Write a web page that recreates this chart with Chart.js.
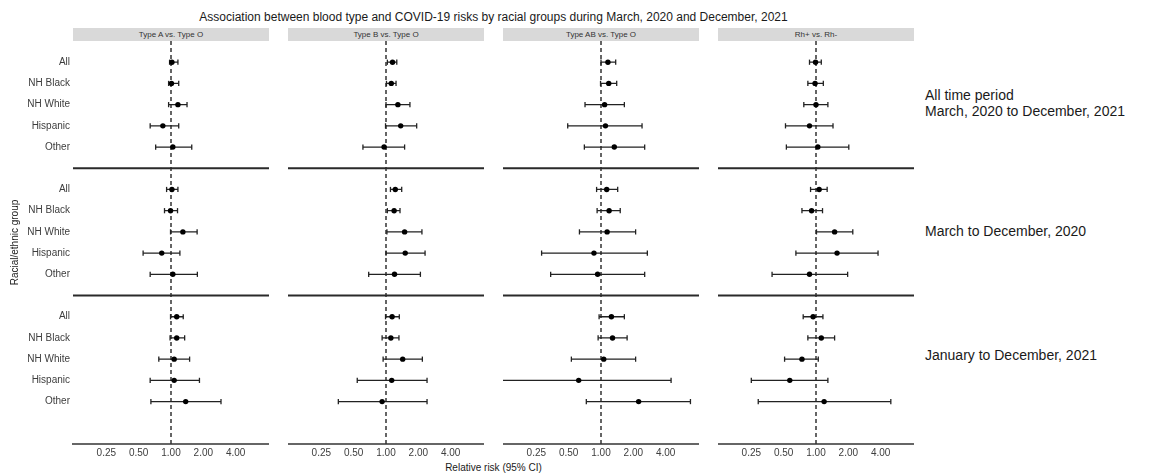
<!DOCTYPE html>
<html>
<head>
<meta charset="utf-8">
<script src="https://cdn.jsdelivr.net/npm/chart.js@4.4.1/dist/chart.umd.min.js"></script>
<style>
  body { margin: 0; background: #fff; font-family: "Liberation Sans", Arial, sans-serif; }
  #wrap { position: relative; width: 1151px; height: 475px; overflow: hidden; }
  .box { position: absolute; }
  .strip { position: absolute; top: 28px; height: 13px; width: 196px; background: #d9d9d9;
           font-size: 8px; line-height: 13px; color: #333; text-align: center; }
  .period { position: absolute; left: 925px; font-size: 14px; line-height: 16px; color: #1a1a1a; white-space: nowrap; }
</style>
</head>
<body>
<div id="wrap">
  <div class="box" style="top:10px;left:0;width:987px;text-align:center;font-size:12px;line-height:14px;color:#1a1a1a;white-space:nowrap;">Association between blood type and COVID-19 risks by racial groups during March, 2020 and December, 2021</div>
  <div class="box" style="top:461px;left:0;width:987px;text-align:center;font-size:10px;line-height:14px;color:#1a1a1a;">Relative risk (95% CI)</div>
</div>
<script>
const groups = ["All", "NH Black", "NH White", "Hispanic", "Other"];
const periods = ["All time period<br>March, 2020 to December, 2021", "March to December, 2020", "January to December, 2021"];
const comparisons = ["Type A vs. Type O", "Type B vs. Type O", "Type AB vs. Type O", "Rh+ vs. Rh-"];
const riskTicks = [0.25, 0.5, 1, 2, 4];

// 15 values each: 5 groups x 3 periods (all time, 2020, 2021)
const rrA = [1.02, 1.01, 1.16, 0.84, 1.04, 1.02, 0.99, 1.29, 0.82, 1.04, 1.13, 1.13, 1.07, 1.07, 1.37];
const loA = [0.97, 0.95, 0.95, 0.64, 0.72, 0.91, 0.87, 0.99, 0.55, 0.64, 0.99, 0.98, 0.77, 0.64, 0.65];
const hiA = [1.16, 1.18, 1.41, 1.18, 1.56, 1.16, 1.15, 1.75, 1.21, 1.76, 1.30, 1.34, 1.49, 1.84, 2.92];

const rrB = [1.15, 1.12, 1.29, 1.37, 0.96, 1.22, 1.19, 1.49, 1.51, 1.20, 1.14, 1.11, 1.43, 1.13, 0.92];
const loB = [1.03, 1.01, 1.00, 0.99, 0.61, 1.10, 1.03, 1.02, 1.00, 0.69, 0.99, 0.92, 0.94, 0.54, 0.36];
const hiB = [1.26, 1.24, 1.67, 1.93, 1.49, 1.40, 1.35, 2.16, 2.31, 2.09, 1.33, 1.32, 2.18, 2.41, 2.41];

const rrAB = [1.16, 1.18, 1.08, 1.10, 1.33, 1.13, 1.19, 1.14, 0.86, 0.93, 1.25, 1.28, 1.06, 0.62, 2.24];
const loAB = [1.00, 0.99, 0.71, 0.49, 0.70, 0.91, 0.92, 0.63, 0.28, 0.34, 0.96, 0.94, 0.53, 0.10, 0.73];
const hiAB = [1.37, 1.40, 1.65, 2.41, 2.55, 1.43, 1.51, 2.10, 2.70, 2.55, 1.65, 1.75, 2.10, 4.49, 6.80];

const rrRh = [0.99, 0.98, 1.00, 0.87, 1.04, 1.07, 0.91, 1.49, 1.57, 0.87, 0.94, 1.12, 0.74, 0.57, 1.19];
const loRh = [0.87, 0.84, 0.77, 0.52, 0.53, 0.89, 0.74, 1.01, 0.65, 0.39, 0.76, 0.84, 0.51, 0.25, 0.29];
const hiRh = [1.12, 1.17, 1.29, 1.44, 2.02, 1.27, 1.15, 2.20, 3.78, 1.97, 1.16, 1.49, 1.05, 1.29, 4.97];

const estimates = [
  { rr: rrA, lo: loA, hi: hiA },
  { rr: rrB, lo: loB, hi: hiB },
  { rr: rrAB, lo: loAB, hi: hiAB },
  { rr: rrRh, lo: loRh, hi: hiRh },
];

const font = "'Liberation Sans', Arial, sans-serif";
const xMin = Math.pow(2, -3.03);
const xMax = Math.pow(2, 3.03);
const panelLeft = [73, 288, 503, 718];
const yAxisWidth = 73;

const wrap = document.getElementById("wrap");

// y slot of each estimate: rows 1-5, 7-11, 13-17, separators at 6 and 12
const yPos = rrA.map((_, i) => Math.floor(i / 5) * 6 + (i % 5) + 1);

periods.forEach((text, p) => {
  const div = document.createElement("div");
  div.className = "period";
  div.style.top = [87, 223, 347][p] + "px";
  div.innerHTML = text;
  wrap.appendChild(div);
});

comparisons.forEach((name, c) => {
  const strip = document.createElement("div");
  strip.className = "strip";
  strip.style.left = panelLeft[c] + "px";
  strip.textContent = name;
  wrap.appendChild(strip);

  const first = c === 0;
  const width = first ? 196 + yAxisWidth : 196;
  const holder = document.createElement("div");
  holder.className = "box";
  holder.style.left = (first ? 0 : panelLeft[c]) + "px";
  holder.style.top = "41px";
  const canvas = document.createElement("canvas");
  canvas.width = width;
  canvas.height = 434;
  holder.appendChild(canvas);
  wrap.appendChild(holder);

  const { rr, lo, hi } = estimates[c];
  const points = rr.map((v, i) => ({ x: v, y: yPos[i] }));
  const bars = [];
  const caps = [];
  lo.forEach((l, i) => {
    bars.push({ x: l, y: yPos[i] }, { x: hi[i], y: yPos[i] }, { x: 1, y: null });
    caps.push({ x: l, y: yPos[i] }, { x: hi[i], y: yPos[i] });
  });

  new Chart(canvas, {
    type: "scatter",
    data: {
      datasets: [
        {
          data: points,
          pointRadius: 2.7,
          pointBackgroundColor: "#000",
          pointBorderColor: "#000",
          pointBorderWidth: 0,
        },
        {
          data: caps,
          pointStyle: "line",
          pointRotation: 90,
          pointRadius: 2.6,
          pointBorderColor: "#222",
          pointBorderWidth: 1.3,
        },
        {
          data: bars,
          showLine: true,
          spanGaps: false,
          borderColor: "#222",
          borderWidth: 1.3,
          pointRadius: 0,
        },
        {
          data: [
            { x: xMin, y: 6 }, { x: xMax, y: 6 }, { x: 1, y: null },
            { x: xMin, y: 12 }, { x: xMax, y: 12 },
          ],
          showLine: true,
          spanGaps: false,
          borderColor: "#2a2a2a",
          borderWidth: 2,
          pointRadius: 0,
        },
        {
          data: [{ x: 1, y: 0 }, { x: 1, y: 19 }],
          showLine: true,
          borderColor: "#333",
          borderWidth: 1.5,
          borderDash: [4, 3],
          pointRadius: 0,
        },
      ],
    },
    options: {
      responsive: false,
      animation: false,
      layout: { padding: 0, autoPadding: false },
      plugins: { legend: { display: false }, tooltip: { enabled: false } },
      scales: {
        x: {
          type: "logarithmic",
          min: xMin,
          max: xMax,
          grid: { display: false, drawTicks: false },
          border: { display: true, color: "#666", width: 2 },
          afterBuildTicks: (scale) => {
            scale.ticks = riskTicks.map((v) => ({ value: v }));
          },
          afterFit: (scale) => {
            scale.height = 31;
            scale.paddingLeft = 0;
            scale.paddingRight = 0;
          },
          ticks: {
            autoSkip: false,
            maxRotation: 0,
            padding: 3,
            color: "#3d3d3d",
            font: { size: 10, family: font },
            callback: (v) => Number(v).toFixed(2),
          },
        },
        y: {
          type: "linear",
          min: 0,
          max: 19,
          reverse: true,
          display: first,
          grid: { display: false, drawTicks: false },
          border: { display: false },
          afterBuildTicks: (scale) => {
            scale.ticks = yPos.map((v) => ({ value: v }));
          },
          afterFit: (scale) => {
            scale.width = first ? yAxisWidth : 0;
            scale.paddingTop = 0;
            scale.paddingBottom = 0;
          },
          ticks: {
            autoSkip: false,
            padding: 3,
            color: "#3d3d3d",
            font: { size: 10, family: font },
            callback: (v) => groups[(v - 1) % 6],
          },
          title: {
            display: true,
            text: "Racial/ethnic group",
            color: "#1a1a1a",
            font: { size: 10, family: font },
            padding: { top: 9, bottom: 0 },
          },
        },
      },
    },
  });
});
</script>
</body>
</html>
